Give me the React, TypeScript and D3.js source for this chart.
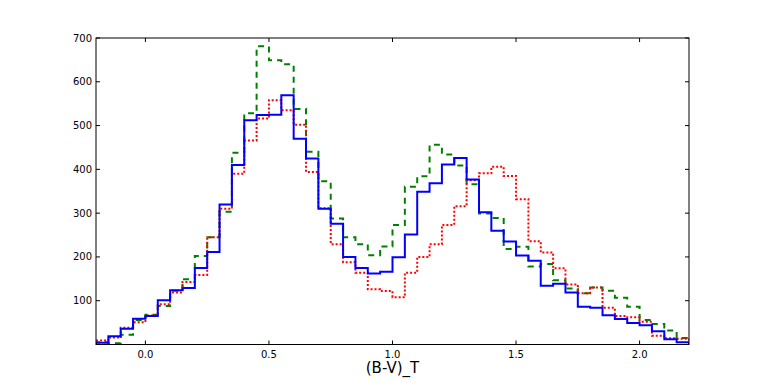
import React from "react";
import * as d3 from "d3";

const binStart = -0.2;
const binWidth = 0.05;

const blueSeries = [4, 19, 36, 59, 65, 101, 124, 129, 175, 211, 320, 410, 512, 524, 525, 569, 470, 425, 310, 276, 200, 175, 162, 166, 199, 251, 349, 368, 411, 426, 377, 302, 260, 235, 203, 191, 134, 139, 119, 86, 84, 67, 58, 49, 44, 30, 12, 5];
const redSeries = [9, 16, 38, 51, 66, 92, 119, 143, 159, 245, 310, 390, 466, 516, 558, 535, 502, 394, 311, 229, 188, 164, 126, 122, 108, 164, 200, 229, 273, 316, 375, 391, 406, 385, 332, 236, 210, 174, 137, 117, 130, 84, 65, 62, 52, 20, 14, 13];
const greenSeries = [5, 3, 22, 56, 68, 88, 123, 149, 202, 245, 303, 438, 528, 681, 649, 640, 538, 440, 373, 288, 245, 229, 204, 224, 273, 360, 384, 456, 434, 409, 366, 299, 289, 218, 223, 178, 184, 147, 128, 117, 130, 123, 107, 86, 56, 47, 32, 15];

const xTicks = [0.0, 0.5, 1.0, 1.5, 2.0];
const yTicks = [100, 200, 300, 400, 500, 600, 700];
const xLabel = "(B-V)_T";

const W = 765;
const H = 383;
const left = 96;
const right = 689;
const top = 38;
const bottom = 344.5;

export default function App() {
  const x = d3.scaleLinear().domain([-0.2, 2.2]).range([left, right]);
  const y = d3.scaleLinear().domain([0, 700]).range([bottom, top]);

  const stepPath = (vals: number[]) => {
    const pts: [number, number][] = [];
    pts.push([binStart, 0]);
    vals.forEach((v, i) => pts.push([binStart + i * binWidth, v]));
    const end = binStart + vals.length * binWidth;
    pts.push([end, vals[vals.length - 1]]);
    pts.push([end, 0]);
    return d3
      .line<[number, number]>()
      .x((d) => x(d[0]))
      .y((d) => y(d[1]))
      .curve(d3.curveStepAfter)(pts) as string;
  };

  const font = "'DejaVu Sans', sans-serif";
  const tickLen = 4;

  return (
    <svg
      width={W}
      height={H}
      style={{ position: "absolute", left: 0, top: 0, background: "#fff" }}
    >
      <defs>
        <clipPath id="plotclip">
          <rect x={left} y={top} width={right - left} height={bottom - top} />
        </clipPath>
      </defs>
      <rect x={0} y={0} width={W} height={H} fill="#fff" />
      <g clipPath="url(#plotclip)" fill="none" strokeLinejoin="miter">
        <path d={stepPath(greenSeries)} stroke="#008000" strokeWidth={2} strokeDasharray="6,5" />
        <path d={stepPath(redSeries)} stroke="#ff0000" strokeWidth={2} strokeDasharray="2,2" />
        <path d={stepPath(blueSeries)} stroke="#0000ff" strokeWidth={2} />
      </g>
      {/* frame */}
      <rect x={left} y={top} width={right - left} height={bottom - top} fill="none" stroke="#000" strokeWidth={1} />
      {/* x ticks */}
      {xTicks.map((t) => (
        <g key={"x" + t}>
          <line x1={x(t)} x2={x(t)} y1={bottom} y2={bottom - tickLen} stroke="#000" />
          <line x1={x(t)} x2={x(t)} y1={top} y2={top + tickLen} stroke="#000" />
          <text x={x(t)} y={bottom + 13} textAnchor="middle" fontFamily={font} fontSize={10} fill="#000">
            {t.toFixed(1)}
          </text>
        </g>
      ))}
      {/* y ticks */}
      {yTicks.map((t) => (
        <g key={"y" + t}>
          <line x1={left} x2={left + tickLen} y1={y(t)} y2={y(t)} stroke="#000" />
          <line x1={right} x2={right - tickLen} y1={y(t)} y2={y(t)} stroke="#000" />
          <text x={left - 4} y={y(t)} dy="0.35em" textAnchor="end" fontFamily={font} fontSize={10} fill="#000">
            {t}
          </text>
        </g>
      ))}
      <text x={(left + right) / 2} y={373} textAnchor="middle" fontFamily={font} fontSize={15} fill="#000">
        {xLabel}
      </text>
    </svg>
  );
}
